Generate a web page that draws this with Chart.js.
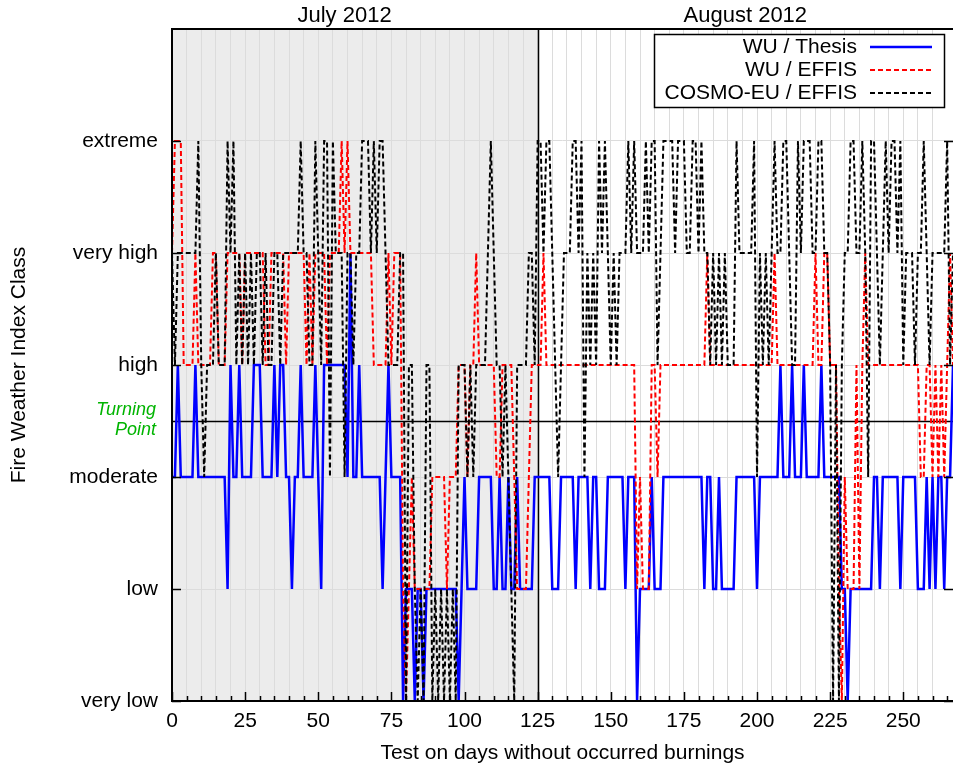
<!DOCTYPE html>
<html>
<head>
<meta charset="utf-8">
<script src="https://cdn.jsdelivr.net/npm/chart.js@4/dist/chart.umd.min.js"></script>
<style>
html,body{margin:0;padding:0;background:#fff;}
#wrap{width:953px;height:773px;}
</style>
</head>
<body>
<div id="wrap"><canvas id="chart" width="953" height="773"></canvas></div>
<script>
// ======================================
// DATA
// ======================================

const classNames = ["very low", "low", "moderate", "high", "very high", "extreme"];
const monthNames = ["July 2012", "August 2012"];
const monthSplit = 125;      // first day of August on the x axis
const turningPoint = 2.5;
const seriesNames = ["WU / Thesis", "WU / EFFIS", "COSMO-EU / EFFIS"];

const wuThesis = [
    2,2,3,2,2,2,2,2,3,2, 2,2,2,2,2,2,2,2,2,1, 3,2,2,3,2,2,2,2,3,3,
    3,2,2,2,2,3,2,3,3,2, 2,1,2,2,3,2,2,2,2,3, 2,1,3,3,3,3,3,3,3,3,
    2,4,2,2,3,2,2,2,2,2, 2,2,1,2,3,2,2,2,2,0, 1,1,1,0,1,1,0,1,1,1,
    1,1,1,1,1,1,1,1,0,1, 2,1,1,1,1,2,2,2,2,2, 1,1,2,1,1,2,1,1,2,1,
    1,1,1,1,2,2,2,2,2,2, 1,1,1,2,2,2,2,2,1,2, 2,2,2,1,2,2,1,1,1,2,
    2,2,2,2,2,1,2,2,2,0, 1,1,1,1,2,1,1,1,2,2, 2,2,2,2,2,2,2,2,2,2,
    2,2,1,2,2,1,1,2,1,1, 1,1,1,2,2,2,2,2,2,2, 1,2,2,2,2,2,2,2,3,2,
    2,2,3,2,2,2,3,2,2,2, 2,2,3,2,2,2,2,2,2,1, 1,0,1,1,1,1,1,1,1,1,
    2,2,1,2,2,2,2,2,2,1, 2,2,2,2,2,1,1,1,2,1, 2,1,2,2,1,2,2,3
];

const wuEffis = [
    4,5,5,5,3,3,3,3,4,3, 3,3,3,3,4,4,3,3,3,4, 4,4,4,4,3,4,4,4,4,4,
    4,4,3,3,4,4,4,4,4,3, 4,4,4,4,4,4,3,4,3,4, 4,4,4,3,4,4,4,4,5,4,
    5,4,4,4,4,4,4,4,4,3, 3,3,3,3,4,3,4,4,4,1, 0,1,2,1,1,1,1,1,1,2,
    2,2,2,2,1,2,2,2,3,3, 3,2,3,3,4,3,3,3,3,3, 3,2,2,3,3,3,3,2,1,1,
    1,1,2,3,3,3,3,4,3,3, 3,3,3,3,3,3,3,3,3,3, 3,3,3,3,3,3,3,3,3,3,
    3,3,3,3,3,3,3,3,3,1, 2,1,1,1,3,3,2,3,3,3, 3,3,3,3,3,3,3,3,3,3,
    3,3,3,4,3,3,3,3,3,3, 3,3,3,3,3,3,3,3,3,3, 3,3,3,3,3,3,4,3,3,3,
    3,3,3,3,3,3,3,3,3,3, 4,3,3,4,4,3,3,3,1,0, 2,1,1,1,3,1,3,4,3,3,
    3,3,3,3,3,3,3,3,3,3, 3,3,3,3,3,3,2,2,3,3, 2,3,2,3,2,3,4,3
];

const cosmoEffis = [
    4,3,4,4,4,4,4,4,4,5, 3,2,3,3,3,4,3,3,3,5, 4,5,3,4,3,4,3,4,3,4,
    4,3,4,3,3,4,4,3,4,4, 4,4,4,4,5,4,4,3,3,5, 4,3,5,5,2,5,4,4,4,2,
    4,4,3,4,4,5,5,5,4,5, 4,5,5,4,3,3,3,3,4,4, 0,3,3,1,0,1,0,3,3,0,
    1,0,1,0,1,0,1,0,3,3, 3,2,3,2,3,3,3,3,4,5, 4,3,3,2,3,2,1,0,3,3,
    3,3,4,4,3,5,5,4,5,5, 4,3,2,3,4,4,4,5,5,4, 5,2,4,3,4,3,5,4,5,4,
    3,4,3,4,4,4,5,4,5,4, 4,4,5,4,5,5,3,4,5,5, 5,5,4,5,5,5,4,4,5,5,
    4,5,4,4,3,4,3,4,3,4, 3,3,3,5,4,4,4,4,4,5, 2,4,3,4,3,4,5,4,4,5,
    5,4,3,3,5,4,5,5,5,4, 4,5,5,4,4,3,0,3,0,3, 4,4,5,5,4,4,5,4,2,5,
    5,4,3,4,5,4,5,5,4,5, 3,4,4,4,3,4,4,5,4,3, 4,4,4,4,4,5,3,4
];

const FONT = '"Liberation Sans", Arial, sans-serif';

function toPoints(arr){
    return arr.map(function(v, i){ return {x: i, y: v}; });
}

// ======================================
// DECORATION (shading, lines, legend)
// ======================================

const decor = {
    id: "decor",

    beforeDraw(chart){
        const ctx = chart.ctx;
        const a = chart.chartArea;
        const xs = chart.scales.x;
        ctx.save();
        ctx.fillStyle = "#fff";
        ctx.fillRect(0, 0, chart.width, chart.height);
        ctx.fillStyle = "#ececec";
        ctx.fillRect(a.left, a.top, xs.getPixelForValue(monthSplit) - a.left, a.bottom - a.top);
        ctx.restore();
    },

    beforeDatasetsDraw(chart){
        const ctx = chart.ctx;
        const a = chart.chartArea;
        const xs = chart.scales.x;
        const ys = chart.scales.y;
        ctx.save();
        ctx.strokeStyle = "#000";
        ctx.lineWidth = 1.5;
        let ty = Math.round(ys.getPixelForValue(turningPoint)) + 0.5;
        ctx.beginPath();
        ctx.moveTo(a.left, ty);
        ctx.lineTo(a.right, ty);
        ctx.stroke();
        let mx = Math.round(xs.getPixelForValue(monthSplit)) + 0.5;
        ctx.beginPath();
        ctx.moveTo(mx, a.top);
        ctx.lineTo(mx, a.bottom);
        ctx.stroke();
        ctx.restore();
    },

    afterDraw(chart){
        const ctx = chart.ctx;
        const a = chart.chartArea;
        const xs = chart.scales.x;
        const ys = chart.scales.y;
        ctx.save();

        // frame
        ctx.strokeStyle = "#000";
        ctx.lineWidth = 2;
        ctx.beginPath();
        ctx.moveTo(a.right, a.top);
        ctx.lineTo(a.left, a.top);
        ctx.lineTo(a.left, a.bottom);
        ctx.lineTo(a.right, a.bottom);
        ctx.stroke();

        // ticks (inside)
        ctx.lineWidth = 1.5;
        ctx.beginPath();
        for(let v = 0; v <= xs.max; v += 5){
            let px = Math.round(xs.getPixelForValue(v)) + 0.5;
            let len = (v % 25 == 0) ? 9 : 5;
            ctx.moveTo(px, a.bottom);
            ctx.lineTo(px, a.bottom - len);
        }
        for(let v = 0; v <= 5; v++){
            let py = Math.round(ys.getPixelForValue(v)) + 0.5;
            ctx.moveTo(a.left, py);
            ctx.lineTo(a.left + 9, py);
            ctx.moveTo(a.right, py);
            ctx.lineTo(a.right - 9, py);
        }
        ctx.stroke();

        // month labels
        ctx.fillStyle = "#000";
        ctx.font = "22px " + FONT;
        ctx.textAlign = "center";
        ctx.textBaseline = "middle";
        ctx.fillText(monthNames[0], xs.getPixelForValue(59), 16);
        ctx.fillText(monthNames[1], xs.getPixelForValue(196), 16);

        // turning point label
        let ty = ys.getPixelForValue(turningPoint);
        ctx.fillStyle = "#00b400";
        ctx.font = "italic 18px " + FONT;
        ctx.textAlign = "right";
        ctx.fillText("Turning", 156, ty - 11);
        ctx.fillText("Point", 156, ty + 9);

        // legend
        ctx.fillStyle = "#fff";
        ctx.fillRect(654, 34, 291, 74);
        ctx.strokeStyle = "#000";
        ctx.lineWidth = 1.5;
        ctx.strokeRect(654.5, 34.5, 290, 73);
        const colors = ["#0000ff", "#ff0000", "#000000"];
        const dashes = [[], [5, 3], [5, 3]];
        for(let i = 0; i < 3; i++){
            let ly = 47 + i * 23;
            ctx.fillStyle = "#000";
            ctx.font = "21px " + FONT;
            ctx.textAlign = "right";
            ctx.fillText(seriesNames[i], 857, ly);
            ctx.strokeStyle = colors[i];
            ctx.lineWidth = i == 0 ? 2.5 : 2;
            ctx.setLineDash(dashes[i]);
            ctx.beginPath();
            ctx.moveTo(870, ly);
            ctx.lineTo(932, ly);
            ctx.stroke();
        }
        ctx.setLineDash([]);
        ctx.restore();
    }
};

// ======================================
// CHART
// ======================================

new Chart(document.getElementById("chart"), {

    type: "line",

    data: {
        datasets: [
            {
                label: seriesNames[0],
                data: toPoints(wuThesis),
                borderColor: "#0000ff",
                borderWidth: 2.5,
                pointRadius: 0,
                order: 3,
                clip: 4
            },
            {
                label: seriesNames[1],
                data: toPoints(wuEffis),
                borderColor: "#ff0000",
                borderWidth: 2,
                borderDash: [5, 3],
                pointRadius: 0,
                order: 2,
                clip: 4
            },
            {
                label: seriesNames[2],
                data: toPoints(cosmoEffis),
                borderColor: "#000000",
                borderWidth: 2,
                borderDash: [5, 3],
                pointRadius: 0,
                order: 1,
                clip: 4
            }
        ]
    },

    options: {
        responsive: false,
        animation: false,
        devicePixelRatio: 1,
        layout: { padding: { top: 29, left: 0, right: 0, bottom: 0 } },
        plugins: {
            legend: { display: false },
            tooltip: { enabled: false }
        },
        scales: {
            x: {
                type: "linear",
                min: 0,
                max: 267,
                border: { display: false },
                grid: { color: "#dcdcdc", lineWidth: 1, drawTicks: false },
                ticks: {
                    stepSize: 5,
                    autoSkip: false,
                    maxRotation: 0,
                    minRotation: 0,
                    padding: 8,
                    color: "#000",
                    font: { family: FONT, size: 21 },
                    callback: function(v){ return (v % 25 == 0) ? String(v) : ""; }
                },
                title: {
                    display: true,
                    text: "Test on days without occurred burnings",
                    color: "#000",
                    font: { family: FONT, size: 21 },
                    padding: { top: 0, bottom: 7 }
                },
                afterFit: function(s){
                    s.height = 72;
                    s.paddingRight = 0;
                    s.paddingLeft = 0;
                }
            },
            y: {
                type: "linear",
                min: 0,
                max: 6,
                border: { display: false },
                grid: { color: "#dcdcdc", lineWidth: 1, drawTicks: false },
                ticks: {
                    stepSize: 1,
                    padding: 14,
                    color: "#000",
                    font: { family: FONT, size: 21 },
                    callback: function(v){ return classNames[v] || ""; }
                },
                title: {
                    display: true,
                    text: "Fire Weather Index Class",
                    color: "#000",
                    font: { family: FONT, size: 21 },
                    padding: { top: 7, bottom: 0 }
                },
                afterFit: function(s){ s.width = 172; }
            }
        }
    },

    plugins: [decor]

});
</script>
</body>
</html>
